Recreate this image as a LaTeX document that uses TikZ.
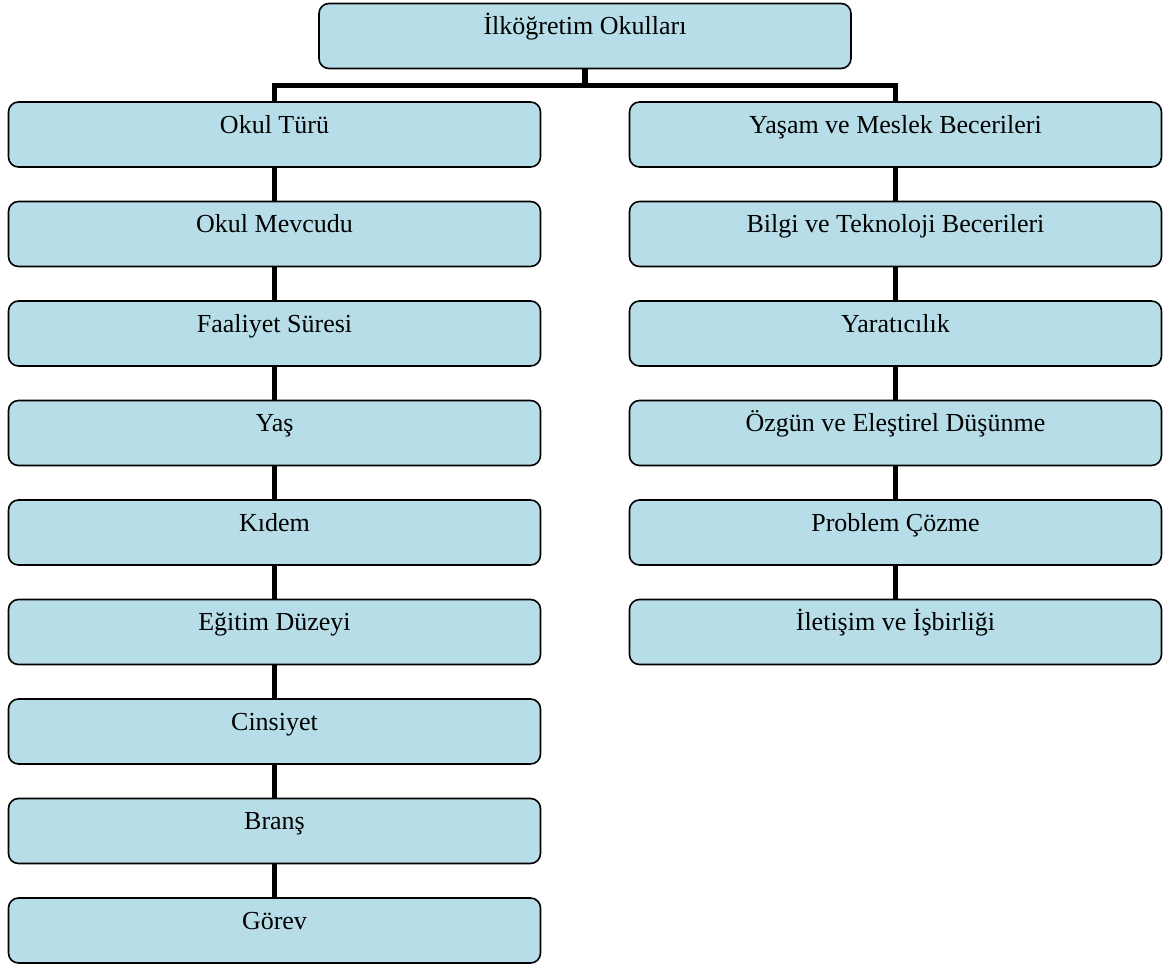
\documentclass[tikz,border=0pt]{standalone}
\usepackage{fontspec}
\setmainfont{Liberation Serif}
\usetikzlibrary{positioning}
\definecolor{kutumavi}{HTML}{B7DEE8}

\begin{document}
\begin{tikzpicture}[
	x=0.75pt, y=-0.75pt,
	font=\fontsize{19.5}{23}\selectfont,
	% kutu: metin ustte duracak sekilde
	kutu/.style={draw=black, line width=1.2pt, fill=kutumavi,
		rounded corners=7.5pt, minimum width=399pt,
		inner xsep=0pt, inner ysep=0pt,
		text height=23.25pt, text depth=25.5pt},
	baglanti/.style={black, line width=4pt},
	node distance=24.675pt
	]
	\useasboundingbox (0,0) rectangle (1165,964);
	
	% --- UST KUTU ---
	\node[kutu] (ust) at (585,36) {İlköğretim Okulları};
	
	% --- SOL SUTUN ---
	\node[kutu] (okul) at (274.5,134.5) {Okul Türü};
	\node[kutu, below=of okul] (mevcut) {Okul Mevcudu};
	\node[kutu, below=of mevcut] (faaliyet) {Faaliyet Süresi};
	\node[kutu, below=of faaliyet] (yas) {Yaş};
	\node[kutu, below=of yas] (kidem) {Kıdem};
	\node[kutu, below=of kidem] (egitim) {Eğitim Düzeyi};
	\node[kutu, below=of egitim] (cinsiyet) {Cinsiyet};
	\node[kutu, below=of cinsiyet] (brans) {Branş};
	\node[kutu, below=of brans] (gorev) {Görev};
	
	% --- SAG SUTUN ---
	\node[kutu] (yasam) at (895.5,134.5) {Yaşam ve Meslek Becerileri};
	\node[kutu, below=of yasam] (bilgi) {Bilgi ve Teknoloji Becerileri};
	\node[kutu, below=of bilgi] (yaraticilik) {Yaratıcılık};
	\node[kutu, below=of yaraticilik] (ozgun) {Özgün ve Eleştirel Düşünme};
	\node[kutu, below=of ozgun] (problem) {Problem Çözme};
	\node[kutu, below=of problem] (iletisim) {İletişim ve İşbirliği};
	
	% --- CATAL ---
	\draw[baglanti] (ust.south) -- ++(0,16.5) coordinate (catal);
	\draw[baglanti] (okul.north) |- (catal) -| (yasam.north);
	
	% --- DIKEY BAGLANTILAR ---
	\foreach \a/\b in {okul/mevcut, mevcut/faaliyet, faaliyet/yas, yas/kidem,
		kidem/egitim, egitim/cinsiyet, cinsiyet/brans, brans/gorev,
		yasam/bilgi, bilgi/yaraticilik, yaraticilik/ozgun,
		ozgun/problem, problem/iletisim}
	\draw[baglanti] (\a.south) -- (\b.north);
	
\end{tikzpicture}
\end{document}
